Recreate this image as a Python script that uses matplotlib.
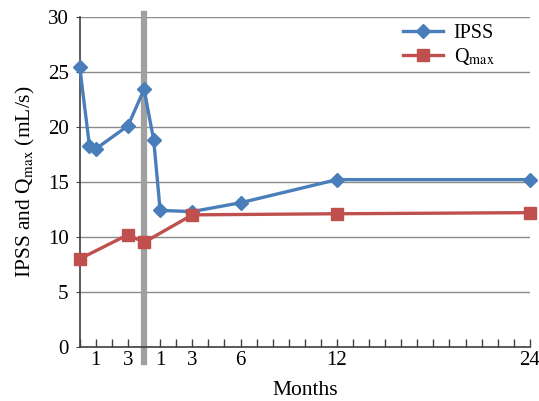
import matplotlib
matplotlib.use("Agg")
from matplotlib import pyplot as plt

plt.rcParams['font.family'] = ['Liberation Serif', 'DejaVu Serif']
plt.rcParams['mathtext.fontset'] = 'stix'

# x position: pre-op months 0..3, surgery at 4, post-op month m at 4 + m
ipss_x = [0, 0.6, 1, 3, 4, 4.6, 5, 7, 10, 16, 28]
ipss_y = [25.4, 18.3, 18.0, 20.1, 23.4, 18.8, 12.4, 12.3, 13.1, 15.2, 15.2]
qmax_x = [0, 3, 4, 7, 16, 28]
qmax_y = [8.0, 10.2, 9.5, 12.0, 12.1, 12.2]
tick_pos = [1, 3, 5, 7, 10, 16, 28]
tick_lab = ["1", "3", "1", "3", "6", "12", "24"]
surgery_x = 4

fig = plt.figure(figsize=(5.39, 4.01), dpi=100)
ax = fig.add_axes([0.148, 0.135, 0.835, 0.823])

ax.axvline(surgery_x, ymin=-0.045, ymax=1.01, color="#a0a0a0", lw=4.5,
           clip_on=False, zorder=1)

ax.plot(ipss_x, ipss_y, color="#4a7ebb", lw=2.4, marker="D", ms=7,
        label="IPSS", zorder=3, clip_on=False)
ax.plot(qmax_x, qmax_y, color="#c0504d", lw=2.4, marker="s", ms=9,
        label=r"Q$_{\mathrm{max}}$", zorder=3, clip_on=False)

ax.set_xlim(0, 28)
ax.set_ylim(0, 30)
ax.set_yticks(range(0, 31, 5))
ax.set_xticks(tick_pos)
ax.set_xticklabels(tick_lab)
ax.set_xticks(range(0, 29), minor=True)
ax.tick_params(axis='x', which='both', direction='in', length=6, width=1,
               labelsize=15, pad=3, color="#404040")
ax.tick_params(axis='y', direction='out', length=3, labelsize=15, pad=5,
               color="#404040")
ax.grid(axis='y', color="#8c8c8c", lw=1)
ax.set_axisbelow(True)
for s in ['top', 'right']:
    ax.spines[s].set_visible(False)
for s in ['left', 'bottom']:
    ax.spines[s].set_color("#404040")
    ax.spines[s].set_linewidth(1.2)

ax.set_xlabel("Months", fontsize=15.5, labelpad=8)
ax.set_ylabel(r"IPSS and Q$_{\mathrm{max}}$ (mL/s)", fontsize=15.5, labelpad=8)

leg = ax.legend(loc='upper right', bbox_to_anchor=(0.93, 0.99), frameon=True,
                fontsize=14.5, handlelength=2.0, handletextpad=0.5,
                labelspacing=0.15, borderaxespad=0, borderpad=0.2)
leg.get_frame().set_edgecolor('none')
leg.get_frame().set_facecolor('white')
leg.get_frame().set_alpha(1)

fig.savefig("out.png", dpi=100)
